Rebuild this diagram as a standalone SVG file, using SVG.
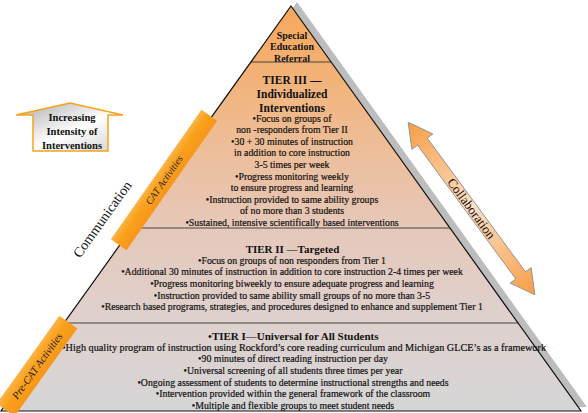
<svg xmlns="http://www.w3.org/2000/svg" width="588" height="413" viewBox="0 0 588 413">
<defs>
<linearGradient id="pyr" gradientUnits="userSpaceOnUse" x1="0" y1="6" x2="0" y2="411">
<stop offset="0" stop-color="#F6A85C"/>
<stop offset="0.14" stop-color="#F3B071"/>
<stop offset="0.3" stop-color="#EFBB90"/>
<stop offset="0.55" stop-color="#E6C8BA"/>
<stop offset="0.78" stop-color="#DED1CE"/>
<stop offset="1" stop-color="#D6D6D6"/>
</linearGradient>
<linearGradient id="house" x1="0" y1="0" x2="1" y2="1">
<stop offset="0" stop-color="#A8A8A8"/>
<stop offset="0.55" stop-color="#FFFFFF"/>
<stop offset="1" stop-color="#CFCFCF"/>
</linearGradient>
<linearGradient id="band" x1="0" y1="0" x2="0" y2="1">
<stop offset="0" stop-color="#FBB347"/>
<stop offset="0.4" stop-color="#F9A11B"/>
<stop offset="1" stop-color="#F7961A"/>
</linearGradient>
<linearGradient id="arr" x1="0" y1="0" x2="1" y2="0">
<stop offset="0" stop-color="#F79E45"/>
<stop offset="0.5" stop-color="#FCE0C6"/>
<stop offset="1" stop-color="#F79E45"/>
</linearGradient>
<style>
.h{font-family:'Liberation Serif',serif;font-weight:bold;font-size:11px;text-anchor:middle;fill:#111}
.b{font-family:'Liberation Serif',serif;font-size:9.8px;text-anchor:middle;fill:#111;stroke:#111;stroke-width:0.2}
.tier{fill:url(#pyr)}
.div{stroke:#444;stroke-width:1.2;fill:none}
.bandr{fill:url(#band)}
.bt{font-family:'Liberation Serif',serif;font-style:italic;font-size:10px;text-anchor:middle;fill:#222}
.side{font-family:'Liberation Serif',serif;font-size:14px;text-anchor:middle;fill:#111}
</style>
</defs>
<rect width="588" height="413" fill="#FFFFFF"/>

<g id="shadow">
<polygon points="297,2 587,407 7,407" fill="#BDBDBD"/>
</g>

<g id="tier-special">
<polygon class="tier" points="291,6 331.1,62 250.9,62"/>
<text class="h" x="292" y="39.2" style="font-size:10px">Special</text>
<text class="h" x="292" y="50.4" style="font-size:10px">Education</text>
<text class="h" x="292" y="61.6" style="font-size:10px">Referral</text>
</g>

<g id="tier-3">
<polygon class="tier" points="250.9,62 331.1,62 449.9,228 132.1,228"/>
<text class="h" x="292" y="84" style="font-size:11.5px">TIER III —</text>
<text class="h" x="292" y="97.5" style="font-size:11.5px">Individualized</text>
<text class="h" x="292" y="111.5" style="font-size:11.5px">Interventions</text>
<text class="b" x="292" y="121.5">•Focus on groups of</text>
<text class="b" x="292" y="133.1">non -responders from Tier II</text>
<text class="b" x="292" y="144.7">•30 + 30 minutes of instruction</text>
<text class="b" x="292" y="156.3">in addition to core instruction</text>
<text class="b" x="292" y="167.9">3-5 times per week</text>
<text class="b" x="292" y="179.5">•Progress monitoring weekly</text>
<text class="b" x="292" y="191.1">to ensure progress and learning</text>
<text class="b" x="292" y="202.7">•Instruction provided to same ability groups</text>
<text class="b" x="292" y="214.3">of no more than 3 students</text>
<text class="b" x="292" y="225.9">•Sustained, intensive scientifically based interventions</text>
</g>

<g id="tier-2">
<polygon class="tier" points="132.1,228 449.9,228 518,323 64,323"/>
<text class="h" x="292.5" y="252.5">TIER II —Targeted</text>
<text class="b" x="292" y="263.7">•Focus on groups of non responders from Tier 1</text>
<text class="b" x="292" y="275.3">•Additional 30 minutes of instruction in addition to core instruction 2-4 times per week</text>
<text class="b" x="292" y="286.9">•Progress monitoring biweekly to ensure adequate progress and learning</text>
<text class="b" x="292" y="298.5">•Instruction provided to same ability small groups of no more than 3-5</text>
<text class="b" x="292" y="310.1">•Research based programs, strategies, and procedures designed to enhance and supplement Tier 1</text>
</g>

<g id="tier-1">
<polygon class="tier" points="64,323 518,323 581,411 1,411"/>
<text class="h" x="293.3" y="339.5">•TIER I—Universal for All Students</text>
<text class="b" x="304" y="350.8" textLength="484" lengthAdjust="spacingAndGlyphs">•High quality program of instruction using Rockford’s core reading curriculum and Michigan GLCE’s as a framework</text>
<text class="b" x="293" y="362.4">•90 minutes of direct reading instruction per day</text>
<text class="b" x="293" y="374">•Universal screening of all students three times per year</text>
<text class="b" x="293" y="385.6">•Ongoing assessment of students to determine instructional strengths and needs</text>
<text class="b" x="293" y="397.2">•Intervention provided within the general framework of the classroom</text>
<text class="b" x="293" y="408.8">•Multiple and flexible groups to meet student needs</text>
</g>

<g id="connectors">
<line class="div" x1="250.9" y1="62" x2="331.1" y2="62"/>
<line class="div" x1="132.1" y1="228" x2="449.9" y2="228"/>
<line class="div" x1="64" y1="323" x2="518" y2="323"/>
<polygon points="291,6 581,411 1,411" fill="none" stroke="#111" stroke-width="1.2"/>
</g>

<g id="cat-band">
<g transform="translate(164,180) rotate(-55)">
<rect class="bandr" x="-79" y="-9.5" width="158" height="19"/>
<text class="bt" x="0" y="3.5">CAT Activities</text>
</g>
</g>

<g id="precat-band">
<g transform="translate(37,366) rotate(-54.5)">
<rect class="bandr" x="-54" y="-11" width="108" height="22"/>
<text class="bt" x="0" y="3.7" style="font-size:10.5px">Pre-CAT Activities</text>
</g>
</g>

<g id="communication">
<text class="side" transform="translate(102,219) rotate(-54.5)" x="0" y="5">Communication</text>
</g>

<g id="collaboration">
<g transform="translate(471.5,208.5) rotate(53.7)">
<polygon points="-107,0 -83,-13 -83,-6 83,-6 83,-13 107,0 83,13 83,6 -83,6 -83,13" fill="url(#arr)" stroke="#8A8A8A" stroke-width="0.8"/>
<text class="side" x="0" y="4.5" style="font-size:13px">Collaboration</text>
</g>
</g>

<g id="intensity">
<path d="M16,115 L70,103 L123,115 L108,115 L108,151 L33,151 L33,115 Z" fill="url(#house)" stroke="#F7A21B" stroke-width="1.5" stroke-linejoin="miter"/>
<text class="h" x="72" y="121" style="font-size:10.5px">Increasing</text>
<text class="h" x="72" y="135" style="font-size:10.5px">Intensity of</text>
<text class="h" x="72" y="148.5" style="font-size:10.5px">Interventions</text>
</g>
</svg>
